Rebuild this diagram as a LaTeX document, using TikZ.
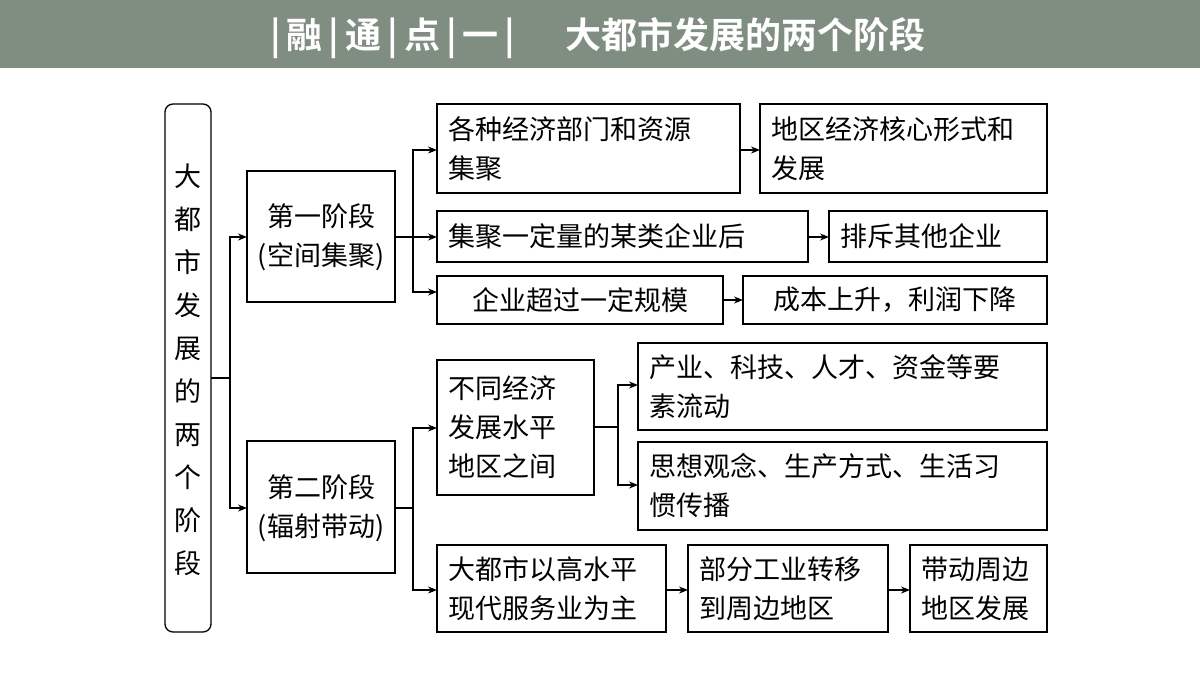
\documentclass[tikz,border=0pt]{standalone}
\usepackage{fontspec}
\newfontfamily\cjk{Noto Sans CJK SC}
\newfontfamily\cjkb{Noto Sans CJK SC Bold}
\usetikzlibrary{arrows.meta}
\definecolor{hdr}{RGB}{128,141,129}
\begin{document}
\begin{tikzpicture}[x=1pt,y=-1pt,
  t/.style={font=\cjk\fontsize{27}{39}\selectfont,align=left},
  ar/.style={line width=1.3pt,-{Stealth[length=9pt,width=7pt]}},
  ln/.style={line width=1.3pt}]
\useasboundingbox (0,0) rectangle (1200,675);
\fill[hdr] (0,0) rectangle (1200,68);
\node[text=white,font=\cjkb\fontsize{36}{40}\selectfont] (title) at (598,38) {|\,融\,|\,通\,|\,点\,|\,一\,|\hspace{1.4em}大都市发展的两个阶段};
% left
\draw[line width=1.3pt,rounded corners=8pt] (165,104) rectangle (211,632);
\node[align=center,font=\cjk\fontsize{27}{43}\selectfont] (L) at (188,370) {大\\都\\市\\发\\展\\的\\两\\个\\阶\\段};
\coordinate (Lr) at (211,378);
% stage boxes
\draw[ln] (247,171) rectangle (395,302); \node[t,align=center] (S1) at (321,237) {第一阶段\\(空间集聚)};
\draw[ln] (247,441) rectangle (395,573); \node[t,align=center] (S2) at (321,508) {第二阶段\\(辐射带动)};
\coordinate (S1l) at (247,237); \coordinate (S2l) at (247,508);
\draw[ln] (Lr) -- (230,378);
\draw[ar] (230,378) |- (S1l);
\draw[ar] (230,378) |- (S2l);
% boxes
\newcommand\bxx[6]{\draw[ln] (#2,#3) rectangle (#4,#5); \node[t,anchor=west] (#1) at (#2+8,{(#3+#5)/2}) {#6};}
\bxx{A1}{437}{104}{740}{193}{各种经济部门和资源\\集聚}
\bxx{A2}{760}{104}{1047}{193}{地区经济核心形式和\\发展}
\bxx{B1}{437}{211}{808}{262}{集聚一定量的某类企业后}
\bxx{B2}{829}{211}{1047}{262}{排斥其他企业}
\draw[ln] (437,276) rectangle (723,324); \node[t] (C1) at (580,300) {企业超过一定规模};
\draw[ln] (743,276) rectangle (1047,324); \node[t] (C2) at (895,300) {成本上升，利润下降};
\bxx{D}{437}{360}{594}{495}{不同经济\\发展水平\\地区之间}
\bxx{F1}{638}{343}{1047}{430}{产业、科技、人才、资金等要\\素流动}
\bxx{F2}{638}{442}{1047}{530}{思想观念、生产方式、生活习\\惯传播}
\bxx{E1}{437}{545}{666}{632}{大都市以高水平\\现代服务业为主}
\bxx{E2}{688}{545}{888}{632}{部分工业转移\\到周边地区}
\bxx{E3}{910}{545}{1047}{632}{带动周边\\地区发展}
% connectors stage1
\draw[ln] (395,237) -- (413,237);
\draw[ar] (413,237) |- (437,150);
\draw[ar] (413,237) -- (437,237);
\draw[ar] (413,237) |- (437,292);
\draw[ar] (740,150) -- (760,150);
\draw[ar] (808,237) -- (829,237);
\draw[ar] (723,300) -- (743,300);
% stage2
\draw[ln] (395,508) -- (413,508);
\draw[ar] (413,508) |- (437,428);
\draw[ar] (413,508) |- (437,590);
\draw[ln] (594,427) -- (618,427);
\draw[ar] (618,427) |- (638,385);
\draw[ar] (618,427) |- (638,485);
\draw[ar] (666,590) -- (688,590);
\draw[ar] (888,590) -- (910,590);
\end{tikzpicture}
\end{document}
